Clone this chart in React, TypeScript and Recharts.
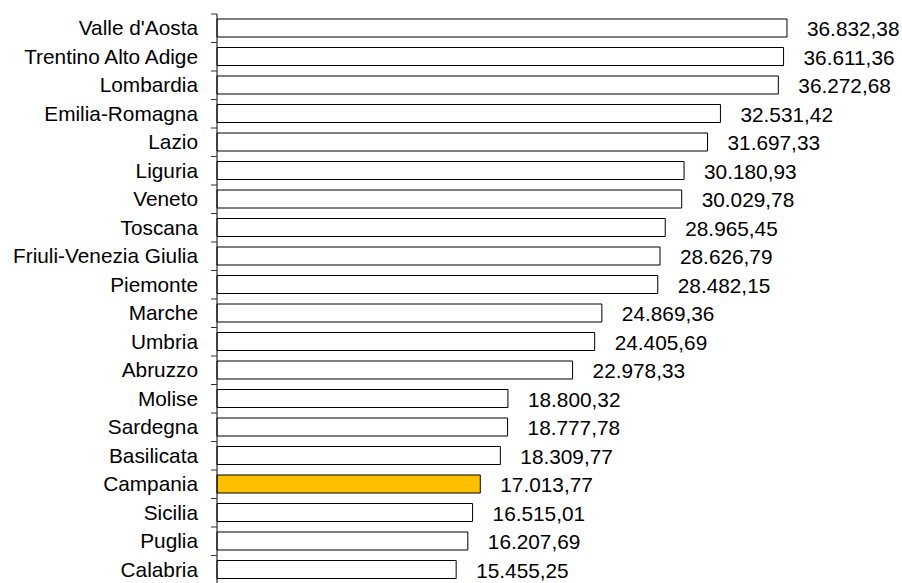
import { Bar, BarChart, Cell, LabelList, XAxis, YAxis } from 'recharts'

const regions = [
  "Valle d'Aosta",
  'Trentino Alto Adige',
  'Lombardia',
  'Emilia-Romagna',
  'Lazio',
  'Liguria',
  'Veneto',
  'Toscana',
  'Friuli-Venezia Giulia',
  'Piemonte',
  'Marche',
  'Umbria',
  'Abruzzo',
  'Molise',
  'Sardegna',
  'Basilicata',
  'Campania',
  'Sicilia',
  'Puglia',
  'Calabria',
]

const values = [
  36832.38, 36611.36, 36272.68, 32531.42, 31697.33, 30180.93, 30029.78, 28965.45, 28626.79, 28482.15,
  24869.36, 24405.69, 22978.33, 18800.32, 18777.78, 18309.77, 17013.77, 16515.01, 16207.69, 15455.25,
]

const highlighted = 'Campania'

const data = regions.map((name, i) => ({ name, value: values[i] }))

const font = 'Arial, "Liberation Sans", sans-serif'
const fontSize = 20.8

// 36832.38 -> "36.832,38"
function formatIt(v: any) {
  const n = Number(v)
  const [int, dec] = n.toFixed(2).split('.')
  return `${int.replace(/\B(?=(\d{3})+(?!\d))/g, '.')},${dec}`
}

const BAND = 570 / regions.length

function RegionTick(props: any) {
  const { x, y, payload } = props
  const lx = x + 13
  return (
    <g>
      <line x1={lx} x2={lx + 6} y1={y - BAND / 2} y2={y - BAND / 2} stroke="#333" strokeWidth={1} />
      <text x={x} y={y} dy="0.33em" textAnchor="end" fontSize={fontSize} fill="#000" fontFamily={font}>
        {payload.value}
      </text>
    </g>
  )
}

export default function App() {
  return (
    <div style={{ position: 'absolute', top: 0, left: 0, width: 902, height: 583, overflow: 'hidden', background: '#fff' }}>
      <BarChart
        width={902}
        height={590}
        data={data}
        layout="vertical"
        margin={{ top: 14, right: 66, left: 0, bottom: 6 }}
        barCategoryGap={0}
      >
        <XAxis type="number" hide domain={[0, 40000]} />
        <YAxis
          type="category"
          dataKey="name"
          width={217}
          axisLine={{ stroke: '#000', strokeWidth: 1 }}
          tickLine={false}
          tickSize={6}
          tickMargin={13}
          interval={0}
          tick={<RegionTick />}
        />
        <Bar dataKey="value" barSize={18} fill="#fff" stroke="#000" strokeWidth={1} isAnimationActive={false}>
          {data.map((d) => (
            <Cell key={d.name} fill={d.name === highlighted ? '#FFC000' : '#fff'} />
          ))}
          <LabelList
            dataKey="value"
            position="right"
            offset={20}
            formatter={formatIt}
            fontSize={fontSize}
            fill="#000"
            fontFamily={font}
            dy={1}
          />
        </Bar>
      </BarChart>
    </div>
  )
}
